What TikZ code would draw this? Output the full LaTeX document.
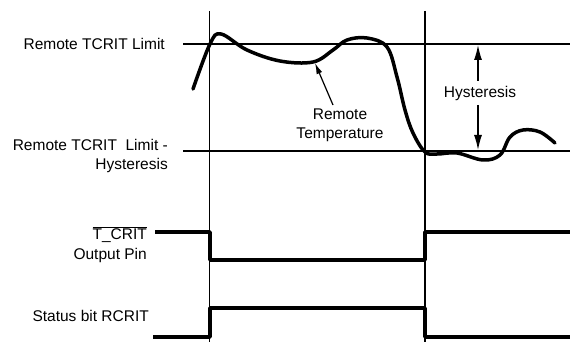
\documentclass[tikz,border=0pt]{standalone}
\usepackage{fontspec}
\setmainfont{Liberation Sans}
\usetikzlibrary{arrows.meta}
\begin{document}
\begin{tikzpicture}[x=1pt,y=-1pt,
  lbl/.style={font=\fontsize{15.5}{19}\selectfont, inner sep=0pt},
  thinline/.style={line width=1.2pt},
  thickline/.style={line width=3.5pt, line join=round},
  tip/.style={-{Latex[length=15pt,width=8pt]}, line width=1.3pt}]
\useasboundingbox (0,0) rectangle (570,342);
% vertical time markers
\coordinate (v1t) at (209.5,11); \coordinate (v1b) at (209.5,342);
\coordinate (v2t) at (425,11); \coordinate (v2b) at (425,342);
\draw[thinline] (v1t) -- (v1b);
\draw[thinline] (v2t) -- (v2b);
% horizontal limit lines
\coordinate (l1a) at (183,44); \coordinate (l1b) at (570,44);
\coordinate (l2a) at (183,151); \coordinate (l2b) at (570,151);
\draw[thinline] (l1a) -- (l1b);
\draw[thinline] (l2a) -- (l2b);
% labels
\node[lbl, anchor=east] (limit) at (165,44) {Remote TCRIT Limit};
\node[lbl, anchor=east, align=right] (limhyst) at (168,155.5) {Remote TCRIT\ \ Limit -\\Hysteresis};
\node[lbl, anchor=east, align=right] (tcrit) at (147,245) {$\overline{\hbox{T\_CRIT}}$\\[1pt]Output Pin};
\node[lbl, anchor=east] (status) at (149,315.5) {Status bit RCRIT};
% temperature curve
\draw[thickline, line cap=round] plot[smooth, tension=0.6] coordinates {
 (193,89) (210,44) (221,34) (247,50) (280,61) (313,62) (333,50) (347,40)
 (367,38) (387,47) (397,77) (405,110) (413,133) (425,152) (437,154)
 (457,153) (483,160) (500,155) (510,137) (523,130) (540,132) (555,143)};
% remote temperature annotation
\node[lbl, align=center] (rtemp) at (340,125.5) {Remote\\Temperature};
\coordinate (rtip) at (315,63);
\draw[-{Latex[length=11pt,width=6pt]}, line width=1.2pt] (333,105) -- (rtip);
% hysteresis
\node[lbl, fill=white, inner sep=2pt] (hyst) at (480,93) {Hysteresis};
\coordinate (htop) at (478,45); \coordinate (hbot) at (478,150);
\draw[tip] (478,81) -- (htop);
\draw[tip] (478,105) -- (hbot);
% T_CRIT pin waveform
\coordinate (t0) at (155,232); \coordinate (t1) at (210,232); \coordinate (t2) at (210,260);
\coordinate (t3) at (425,260); \coordinate (t4) at (425,232); \coordinate (t5) at (570,232);
\draw[thickline] (t0) -- (t1) -- (t2) -- (t3) -- (t4) -- (t5);
% status bit waveform
\coordinate (s0) at (153,337); \coordinate (s1) at (210,337); \coordinate (s2) at (210,308);
\coordinate (s3) at (425,308); \coordinate (s4) at (425,337); \coordinate (s5) at (570,337);
\draw[thickline] (s0) -- (s1) -- (s2) -- (s3) -- (s4) -- (s5);
\end{tikzpicture}
\end{document}
